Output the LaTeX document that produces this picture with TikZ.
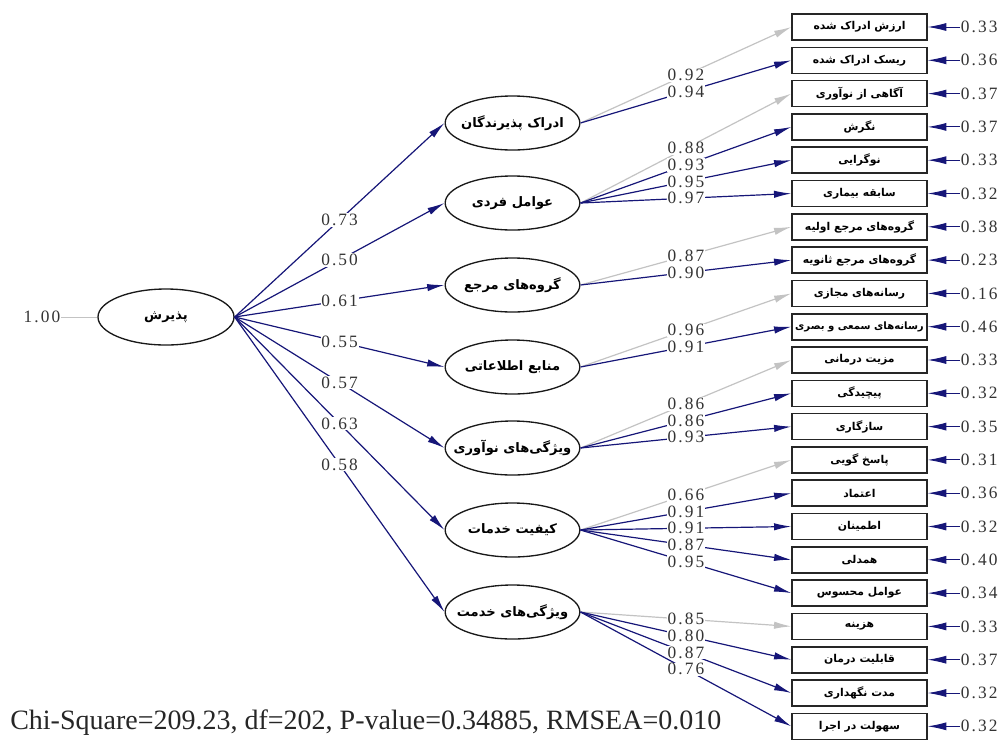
\documentclass[tikz,border=0pt]{standalone}
\usepackage{fontspec}
\setmainfont{Liberation Serif}
\newfontfamily\fa[Script=Arabic]{DejaVu Sans}
\newfontfamily\numfont[LetterSpace=12]{Liberation Serif}
\TeXXeTstate=1
\usetikzlibrary{shapes.geometric,arrows.meta}
\definecolor{navy}{RGB}{22,22,120}
\definecolor{lgray}{RGB}{195,195,195}
\newcommand\fatext[1]{\makebox[0pt]{\beginR #1\endR}}
\tikzset{
  latent/.style={ellipse, draw=black!90, line width=1pt, minimum width=101pt, minimum height=40.5pt, inner sep=0pt, font=\fa\bfseries\fontsize{9.8}{11}\selectfont},
  obs/.style={rectangle, draw=black!85, line width=1.2pt, minimum width=101pt, minimum height=19.5pt, inner sep=0pt, font=\fa\bfseries\fontsize{8.1}{9}\selectfont},
  num/.style={font=\numfont\fontsize{13}{13}\selectfont, inner sep=0.5pt, text=black!80},
  lab/.style={num, fill=white},
  ld/.style={draw=navy, line width=0.9pt, -{Latex[length=13pt,width=5.5pt]}},
  fixld/.style={draw=lgray, line width=0.9pt, -{Latex[length=13pt,width=5.5pt]}},
  errarr/.style={draw=navy, line width=0.7pt, -{Latex[length=14pt,width=6pt]}},
}
\begin{document}
\begin{tikzpicture}[x=0.75pt,y=-0.75pt]
\useasboundingbox (0,0) rectangle (1005,740);

% main latent
\node[latent, minimum width=102pt, minimum height=42pt] (main) at (166,317) {\fatext{پذیرش}};
\node[num] (one) at (42,317) {1.00};
\draw[lgray, line width=0.7pt] (one.east) -- (main.west);

% second-level latents
\node[latent] (e1) at (512.5,123) {\fatext{ادراک پذیرندگان}};
\node[latent] (e2) at (512.5,203) {\fatext{عوامل فردی}};
\node[latent] (e3) at (512.5,285) {\fatext{گروه^^^^200cهای مرجع}};
\node[latent] (e4) at (512.5,367) {\fatext{منابع اطلاعاتی}};
\node[latent] (e5) at (512.5,448) {\fatext{ویژگی^^^^200cهای نوآوری}};
\node[latent] (e6) at (512.5,530) {\fatext{کیفیت خدمات}};
\node[latent] (e7) at (512.5,612) {\fatext{ویژگی^^^^200cهای خدمت}};

\draw[ld] (main.east) -- node[lab]{0.73} (e1.west);
\draw[ld] (main.east) -- node[lab]{0.50} (e2.west);
\draw[ld] (main.east) -- node[lab]{0.61} (e3.west);
\draw[ld] (main.east) -- node[lab]{0.55} (e4.west);
\draw[ld] (main.east) -- node[lab]{0.57} (e5.west);
\draw[ld] (main.east) -- node[lab]{0.63} (e6.west);
\draw[ld] (main.east) -- node[lab]{0.58} (e7.west);

% observed indicators with error variances
\foreach \i/\t/\v in {
  1/ارزش ادراک شده/0.33,
  2/ریسک ادراک شده/0.36,
  3/آگاهی از نوآوری/0.37,
  4/نگرش/0.37,
  5/نوگرایی/0.33,
  6/سابقه بیماری/0.32,
  7/گروه^^^^200cهای مرجع اولیه/0.38,
  8/گروه^^^^200cهای مرجع ثانویه/0.23,
  9/رسانه^^^^200cهای مجازی/0.16,
  10/{\fontsize{7.6}{9}\selectfont رسانه^^^^200cهای سمعی و بصری}/0.46,
  11/مزیت درمانی/0.33,
  12/پیچیدگی/0.32,
  13/سازگاری/0.35,
  14/پاسخ گویی/0.31,
  15/اعتماد/0.36,
  16/اطمینان/0.32,
  17/همدلی/0.40,
  18/عوامل محسوس/0.34,
  19/هزینه/0.33,
  20/قابلیت درمان/0.37,
  21/مدت نگهداری/0.32,
  22/سهولت در اجرا/0.32}{
  \pgfmathsetmacro\yy{27+33.3*(\i-1)}
  \node[obs] (b\i) at (859.5,\yy) {\fatext{\t}};
  \node[num, anchor=west] (r\i) at (960,\yy) {\v};
  \draw[errarr] (r\i.west) -- (b\i.east);
}

% loadings
\draw[fixld] (e1.east) -- node[lab]{0.92} (b1.west);
\draw[ld] (e1.east) -- node[lab]{0.94} (b2.west);

\draw[fixld] (e2.east) -- node[lab]{0.88} (b3.west);
\draw[ld] (e2.east) -- node[lab]{0.93} (b4.west);
\draw[ld] (e2.east) -- node[lab]{0.95} (b5.west);
\draw[ld] (e2.east) -- node[lab]{0.97} (b6.west);

\draw[fixld] (e3.east) -- node[lab]{0.87} (b7.west);
\draw[ld] (e3.east) -- node[lab]{0.90} (b8.west);

\draw[fixld] (e4.east) -- node[lab]{0.96} (b9.west);
\draw[ld] (e4.east) -- node[lab]{0.91} (b10.west);

\draw[fixld] (e5.east) -- node[lab]{0.86} (b11.west);
\draw[ld] (e5.east) -- node[lab]{0.86} (b12.west);
\draw[ld] (e5.east) -- node[lab]{0.93} (b13.west);

\draw[fixld] (e6.east) -- node[lab]{0.66} (b14.west);
\draw[ld] (e6.east) -- node[lab]{0.91} (b15.west);
\draw[ld] (e6.east) -- node[lab]{0.91} (b16.west);
\draw[ld] (e6.east) -- node[lab]{0.87} (b17.west);
\draw[ld] (e6.east) -- node[lab]{0.95} (b18.west);

\draw[fixld] (e7.east) -- node[lab]{0.85} (b19.west);
\draw[ld] (e7.east) -- node[lab]{0.80} (b20.west);
\draw[ld] (e7.east) -- node[lab]{0.87} (b21.west);
\draw[ld] (e7.east) -- node[lab]{0.76} (b22.west);

% fit statistics
\node[anchor=west, inner sep=0pt, font=\fontsize{21}{21}\selectfont, text=black!85] (fit) at (10,723) {Chi-Square=209.23, df=202, P-value=0.34885, RMSEA=0.010};
\end{tikzpicture}
\end{document}
